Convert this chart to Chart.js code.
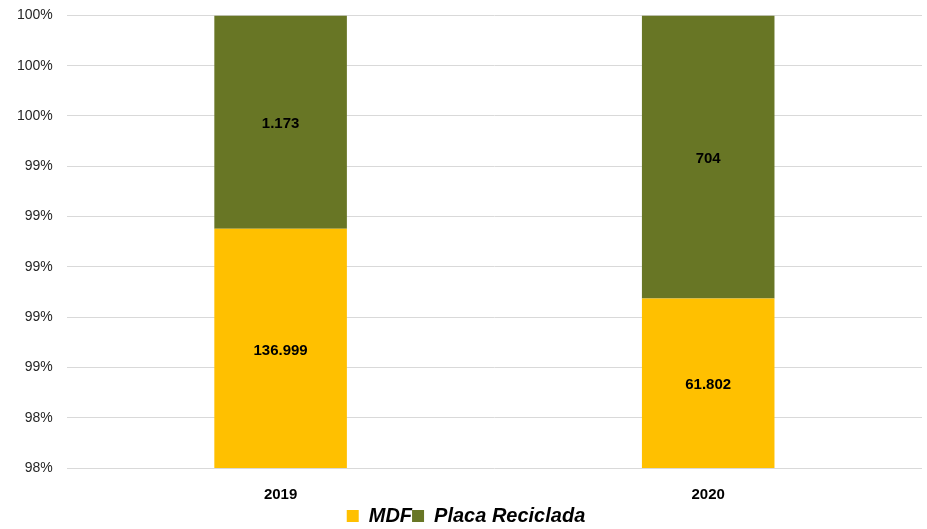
<!DOCTYPE html>
<html>
<head>
<meta charset="utf-8">
<script src="https://cdn.jsdelivr.net/npm/chart.js@4"></script>
<style>
  body { margin: 0; background: #fff; }
  #wrap { width: 927px; height: 529px; }
</style>
</head>
<body>
<div id="wrap"><canvas id="chart" width="927" height="529"></canvas></div>
<script>
// Data
const years = ['2019', '2020'];
const mdfValues = [136999, 61802];
const placaValues = [1173, 704];
const yTicks = { min: 98.2, max: 100, step: 0.2 };

// Percent share of each year total
const totals = years.map((_, i) => mdfValues[i] + placaValues[i]);
const mdfPct = mdfValues.map((v, i) => v / totals[i] * 100);
const placaPct = placaValues.map((v, i) => v / totals[i] * 100);

function fmt(n) {
    return String(n).replace(/\B(?=(\d{3})+(?!\d))/g, '.');
}

// Value labels centred in the visible part of each segment
const segmentLabels = {
    id: 'segmentLabels',
    afterDatasetsDraw(chart) {
        const ctx = chart.ctx;
        const area = chart.chartArea;
        ctx.save();
        ctx.font = 'bold 15px "Liberation Sans", Arial, sans-serif';
        ctx.fillStyle = '#000';
        ctx.textAlign = 'center';
        ctx.textBaseline = 'middle';
        chart.data.datasets.forEach((ds, di) => {
            chart.getDatasetMeta(di).data.forEach((bar, i) => {
                const top = Math.max(Math.min(bar.y, bar.base), area.top);
                const bottom = Math.min(Math.max(bar.y, bar.base), area.bottom);
                if (bottom <= top) return;
                ctx.fillText(fmt(ds.raw[i]), bar.x, (top + bottom) / 2 + 2);
            });
        });
        ctx.restore();
    }
};

new Chart(document.getElementById('chart'), {
    type: 'bar',
    data: {
        labels: years,
        datasets: [
            { label: 'MDF', data: mdfPct, raw: mdfValues, backgroundColor: '#FFC000' },
            { label: 'Placa Reciclada', data: placaPct, raw: placaValues, backgroundColor: '#687625' }
        ]
    },
    options: {
        responsive: false,
        animation: false,
        layout: { padding: { top: 1, right: 5, left: 10, bottom: -7 } },
        datasets: { bar: { barPercentage: 0.31, categoryPercentage: 1 } },
        scales: {
            x: {
                stacked: true,
                grid: { display: false },
                border: { display: false },
                afterFit: scale => { scale.height -= 8; },
                ticks: {
                    color: '#000',
                    padding: 10,
                    font: { family: '"Liberation Sans", Arial, sans-serif', size: 15, weight: 'bold' }
                }
            },
            y: {
                stacked: true,
                min: yTicks.min,
                max: yTicks.max,
                grid: { color: '#d9d9d9', lineWidth: 1, drawTicks: true, tickLength: 7, tickColor: 'transparent' },
                border: { display: false },
                ticks: {
                    stepSize: yTicks.step,
                    padding: 7,
                    color: '#262626',
                    font: { family: '"Liberation Sans", Arial, sans-serif', size: 14 },
                    callback: v => Math.round(v) + '%'
                }
            }
        },
        plugins: {
            legend: {
                position: 'bottom',
                labels: {
                    boxWidth: 12,
                    boxHeight: 12,
                    padding: 0,
                    color: '#000',
                    font: { family: '"Liberation Sans", Arial, sans-serif', size: 20, weight: 'bold', style: 'italic' }
                }
            },
            tooltip: { enabled: false }
        }
    },
    plugins: [segmentLabels]
});
</script>
</body>
</html>
